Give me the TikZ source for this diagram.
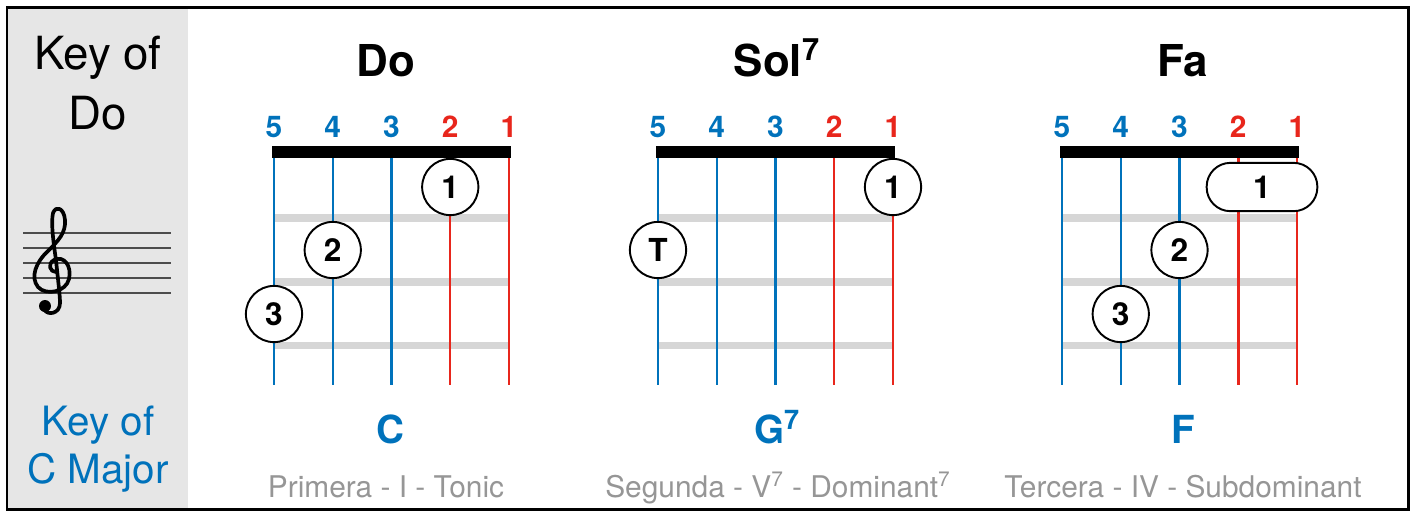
\documentclass[tikz,border=0pt]{standalone}
\usepackage{fontspec}
\setmainfont{TeX Gyre Heros}
\definecolor{strblue}{RGB}{0,114,187}
\definecolor{strred}{RGB}{232,38,28}
\definecolor{fretgray}{RGB}{214,214,214}
\definecolor{txtgray}{RGB}{150,150,150}
\definecolor{panelgray}{RGB}{230,230,230}

\begin{document}
\begin{tikzpicture}[x=0.02cm, y=-0.02cm,
    finger/.style ={circle, draw, line width=1.1pt, fill=white, minimum size=32pt, inner sep=0pt,
      font=\fontsize{18}{18}\selectfont\bfseries},
    barre/.style ={rectangle, rounded corners=13.5pt, draw, line width=1.1pt, fill=white,
      minimum width=63pt, minimum height=27.5pt, inner sep=0pt, font=\fontsize{18}{18}\selectfont\bfseries},
    numlabel/.style ={anchor=base, inner sep=0pt, font=\fontsize{17}{17}\selectfont\bfseries},
    title/.style ={anchor=base, inner sep=0pt, font=\fontsize{25}{25}\selectfont\bfseries},
    chordname/.style ={anchor=base, inner sep=0pt, text=strblue, font=\fontsize{22}{22}\selectfont\bfseries},
    degree/.style ={anchor=base, inner sep=0pt, text=txtgray, font=\fontsize{17}{17}\selectfont},
    keytext/.style ={anchor=base, inner sep=0pt, font=\fontsize{26}{26}\selectfont},
    keyblue/.style ={anchor=base, inner sep=0pt, text=strblue, font=\fontsize{23}{23}\selectfont},
    fret/.style ={fretgray, line width=4pt},
    nut/.style ={line width=6.8pt},
    bluestring/.style ={strblue, line width=1.4pt},
    redstring/.style ={strred, line width=1.4pt},
    clefline/.style ={line width=2.1pt, line cap=round, line join=round}]
   \useasboundingbox (0,0) rectangle (1415,512);

   % left panel
   \fill[panelgray] (7,7) rectangle (188,509);
   \node[keytext] (keyof) at (98,69) {Key of};
   \node[keytext] (keydo) at (98,129) {Do};
   \foreach \y in {233,248,263,278,293}
     \draw[black!70, line width=0.8pt] (23,\y) -- (171,\y);
   % treble clef
   \draw[clefline] (56,272) .. controls (50,272) and (47,264) .. (54,260)
     .. controls (64,255) and (72,266) .. (69,279)
     .. controls (66,292) and (46,296) .. (38,287)
     .. controls (30,277) and (36,262) .. (48,251)
     .. controls (58,241) and (66,233) .. (65,220)
     .. controls (64,208) and (56,205) .. (53,213)
     .. controls (51,222) and (53,240) .. (56,260)
     .. controls (58,280) and (60,295) .. (60,303)
     .. controls (60,314) and (47,316) .. (44,309);
   \fill (45,306) circle[radius=6];
   \node[keyblue] (keyofc) at (98,435) {Key of};
   \node[keyblue] (cmajor) at (98,483) {C Major};

   % the three chords
   \foreach \c/\x in {do/274, sol/658, fa/1062} {
     \foreach \s [count=\i from 0] in {5,4,3,2,1} {
       \coordinate (\c-\s-top) at (\x+\i*58.75,152);
       \coordinate (\c-\s-bot) at (\x+\i*58.75,385);
     }
     \foreach \f/\y in {1/218,2/282,3/345} {
       \coordinate (\c-fret\f-l) at (\x,\y);
       \coordinate (\c-fret\f-r) at (\x+235,\y);
       \draw[fret] (\c-fret\f-l) -- (\c-fret\f-r);
     }
     \foreach \s in {5,4,3} {
       \draw[bluestring] (\c-\s-top) -- (\c-\s-bot);
       \node[numlabel, text=strblue] (\c-\s-num) at ([yshift=8.5pt]\c-\s-top) {\s};
     }
     \foreach \s in {2,1} {
       \draw[redstring] (\c-\s-top) -- (\c-\s-bot);
       \node[numlabel, text=strred] (\c-\s-num) at ([yshift=8.5pt]\c-\s-top) {\s};
     }
     \coordinate (\c-nut-l) at (\x-2,152);
     \coordinate (\c-nut-r) at (\x+237,152);
     \draw[nut] (\c-nut-l) -- (\c-nut-r);
   }

   % Do
   \node[title] (do-title) at (386,76) {Do};
   \node[finger] (do-f1) at (do-2-top |- 0,187) {1};
   \node[finger] (do-f2) at (do-4-top |- 0,250) {2};
   \node[finger] (do-f3) at (do-5-top |- 0,314) {3};
   \node[chordname] (do-name) at (390,443) {C};
   \node[degree] (do-degree) at (386,497) {Primera - I - Tonic};

   % Sol7
   \node[title] (sol-title) at (777,76) {Sol\textsuperscript{7}};
   \node[finger] (sol-f1) at (sol-1-top |- 0,187) {1};
   \node[finger] (sol-ft) at (sol-5-top |- 0,250) {T};
   \node[chordname] (sol-name) at (777,443) {G\textsuperscript{7}};
   \node[degree] (sol-degree) at (778,497) {Segunda - V\textsuperscript{7} - Dominant\textsuperscript{7}};

   % Fa
   \node[title] (fa-title) at (1183,76) {Fa};
   \node[barre] (fa-f1) at (1262,187) {1};
   \node[finger] (fa-f2) at (fa-3-top |- 0,250) {2};
   \node[finger] (fa-f3) at (fa-4-top |- 0,314) {3};
   \node[chordname] (fa-name) at (1183,443) {F};
   \node[degree] (fa-degree) at (1183,497) {Tercera - IV - Subdominant};

   \draw[line width=1.7pt] (7,7) rectangle (1408,509);
 \end{tikzpicture}
\end{document}
